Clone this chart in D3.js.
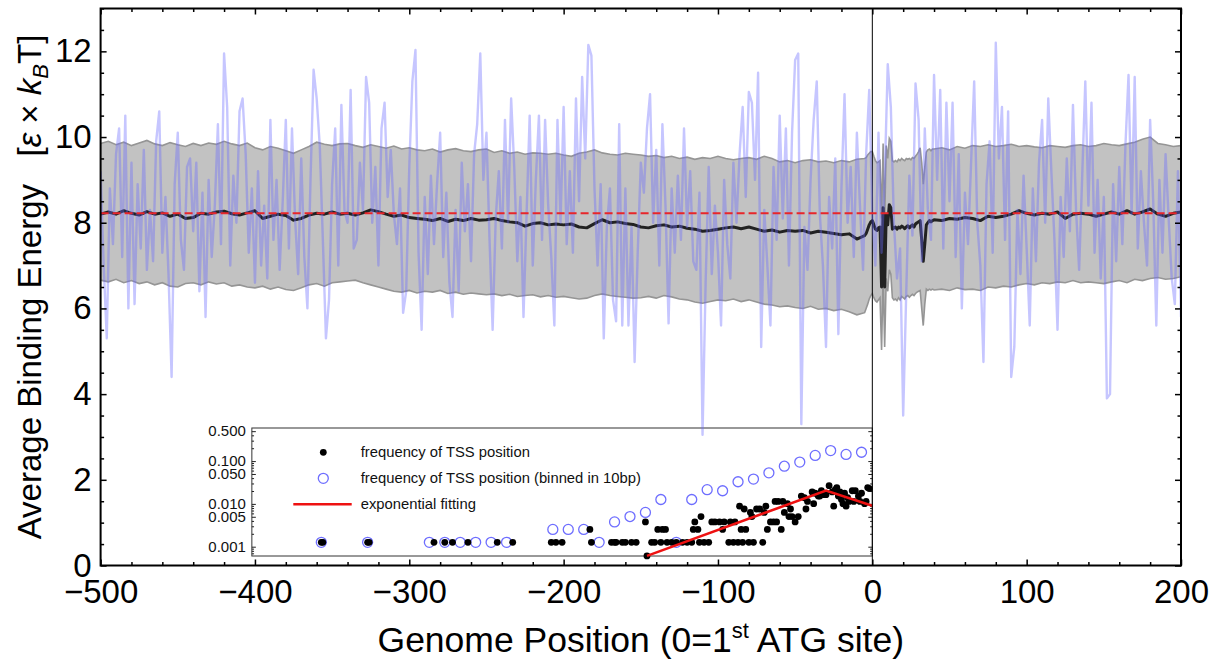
<!DOCTYPE html>
<html><head><meta charset="utf-8">
<script src="https://cdn.jsdelivr.net/npm/d3@7"></script>
<style>
body{margin:0;background:#fff}
svg{display:block}
text{font-family:"Liberation Sans",Arial,Helvetica,sans-serif}
</style>
</head><body>
<svg id="chart" width="1217" height="661"></svg>
<script>
// ---------------- DATA ----------------
// single-sequence binding energy, every 2 bp from -500 to 200
const bluePos = d3.range(-500, 201, 2);
const blueVal = [
9.2,7.0,5.3,8.8,7.5,9.6,10.2,7.2,10.5,6.0,
9.4,6.1,8.9,7.4,9.7,6.9,8.3,7.1,9.9,10.6,
7.3,8.6,6.8,4.4,8.9,10.1,7.6,6.9,9.3,9.5,
7.8,9.4,6.4,8.7,5.8,9.0,7.2,8.4,10.3,7.5,
11.95,10.7,7.0,9.1,8.0,10.6,10.9,9.6,7.3,8.8,
6.6,9.2,7.0,8.4,6.7,10.4,7.6,9.0,6.9,8.5,
10.4,7.4,10.2,8.1,6.8,9.5,7.2,6.0,9.0,11.57,
10.9,9.8,7.6,5.3,6.2,8.9,10.2,7.0,10.75,8.3,
8.0,11.1,7.4,7.6,9.4,8.3,11.4,10.8,8.0,9.3,
7.0,10.2,10.8,8.6,9.7,8.2,7.5,8.8,5.9,6.4,
9.3,11.3,12.03,7.3,5.5,8.6,6.8,9.1,7.5,8.9,
10.1,7.2,8.7,6.6,5.8,8.3,6.4,9.4,7.8,8.9,
7.1,9.6,10.3,11.95,9.0,10.1,7.6,5.5,8.1,9.2,
7.4,10.4,8.0,10.9,9.3,7.1,8.6,5.8,8.2,10.5,
7.0,9.0,10.5,7.6,10.4,8.4,7.2,5.6,10.4,8.0,
10.7,7.5,9.2,7.3,10.9,8.5,11.4,9.5,12.15,11.9,
8.8,7.0,8.9,5.3,7.9,8.8,6.2,5.7,10.3,5.6,
8.8,5.6,7.9,4.75,7.3,9.4,8.7,10.2,11.0,8.0,
9.7,7.0,10.3,8.4,5.65,8.8,7.3,9.1,7.6,10.2,
7.9,9.2,7.1,6.9,8.7,3.05,6.6,9.3,6.8,8.4,
7.3,5.6,9.0,7.5,6.7,9.4,8.0,9.6,10.7,8.6,
11.05,10.8,9.0,11.5,5.1,8.3,7.0,5.6,9.3,7.6,
10.5,8.1,10.2,7.0,10.1,11.8,11.95,3.3,7.9,6.9,
9.0,10.4,11.3,8.2,7.0,5.1,8.6,7.4,9.5,5.4,
8.8,11.0,8.0,9.3,7.2,10.1,8.4,6.9,9.6,11.1,
8.2,7.0,10.1,7.3,9.0,11.7,10.7,8.0,6.7,7.4,
3.5,6.4,9.1,7.7,11.25,10.4,7.1,10.2,8.3,7.6,
11.45,9.0,11.1,7.4,10.8,8.5,10.8,7.2,9.6,6.0,
8.7,7.5,9.4,11.3,8.0,7.0,4.75,8.9,9.9,7.3,
12.2,9.5,10.7,7.6,10.6,4.4,5.1,8.3,6.8,9.1,
7.4,5.6,8.8,7.1,9.4,10.4,8.0,10.9,9.2,7.6,
5.5,8.6,7.2,9.5,7.8,10.75,8.3,6.9,9.1,11.3,
8.4,10.8,7.3,9.0,6.7,8.6,3.9,4.0,8.9,7.1,
9.3,7.5,9.8,11.45,8.2,11.4,7.4,9.2,8.0,7.0,
10.4,8.5,5.6,9.0,7.3,9.6,8.1,6.7,6.1,9.2,5.8
];

// average energy and band (mean ± sd): every 5 bp, every 1 bp between -4 and 39
const bandPos = d3.range(-500, -4, 5).concat(d3.range(-4, 40, 1), d3.range(40, 201, 5));
const meanVal = [
8.2,8.25,8.2,8.28,8.22,8.18,8.26,8.2,8.23,8.15,
8.2,8.1,8.12,8.22,8.2,8.25,8.27,8.21,8.18,8.23,
8.28,8.1,8.15,8.2,8.17,8.06,8.1,8.18,8.22,8.2,
8.25,8.2,8.22,8.18,8.23,8.3,8.26,8.2,8.15,8.18,
8.12,8.1,8.08,8.05,8.1,8.03,8.08,8.05,8.1,8.06,
8.07,8.1,8.05,8.02,8.0,7.92,7.98,8.0,7.95,7.97,
7.95,7.97,7.9,7.88,7.98,8.07,8.0,8.02,7.98,7.96,
7.9,7.88,7.93,7.95,7.9,7.92,7.87,7.85,7.8,7.82,
7.85,7.88,7.9,7.86,7.9,7.85,7.8,7.83,7.78,7.82,
7.8,7.82,7.76,7.8,7.78,7.75,7.72,7.74,7.62,7.7,
7.75,7.85,7.95,8.02,8.05,7.95,7.85,7.82,7.88,7.9,
6.5,8.35,6.5,8.2,7.95,8.42,8.35,7.85,7.88,7.9,
7.85,7.9,7.88,7.92,7.9,7.86,7.9,7.93,7.88,7.92,
7.95,7.9,7.97,8.0,8.02,8.05,7.6,7.1,7.5,7.95,
8.0,8.05,8.02,8.05,
8.07,8.05,8.1,8.08,8.12,8.1,8.05,8.15,8.12,8.15,
8.2,8.28,8.22,8.18,8.22,8.2,8.25,8.1,8.2,8.22,
8.2,8.15,8.2,8.25,8.2,8.28,8.2,8.25,8.32,8.2,
8.15,8.22,8.25
];
const upperVal = [
9.85,9.9,9.82,9.88,9.8,9.86,9.92,9.84,9.8,9.87,
9.82,9.78,9.85,9.8,9.86,9.83,9.9,9.84,9.8,9.86,
9.75,9.7,9.78,9.74,9.68,9.62,9.7,9.78,9.88,9.83,
9.8,9.84,9.85,9.8,9.76,9.82,9.78,9.74,9.79,9.72,
9.75,9.7,9.68,9.72,9.65,9.7,9.73,9.68,9.66,9.7,
9.72,9.64,9.68,9.62,9.65,9.6,9.63,9.62,9.6,9.62,
9.58,9.55,9.62,9.65,9.7,9.63,9.6,9.58,9.62,9.6,
9.58,9.55,9.57,9.52,9.55,9.5,9.53,9.48,9.52,9.5,
9.55,9.5,9.47,9.5,9.52,9.48,9.55,9.5,9.42,9.45,
9.4,9.45,9.47,9.42,9.44,9.4,9.45,9.42,9.48,9.5,
9.52,9.58,9.62,9.66,9.66,9.55,9.45,9.4,9.42,9.45,
8.1,9.85,8.0,9.8,9.5,9.97,9.9,9.45,9.42,9.45,
9.42,9.48,9.45,9.5,9.47,9.45,9.5,9.48,9.5,9.47,
9.52,9.5,9.55,9.6,9.66,9.75,9.4,8.9,9.3,9.65,
9.7,9.72,9.68,9.72,
9.72,9.75,9.7,9.78,9.74,9.8,9.78,9.82,9.78,9.8,
9.83,9.78,9.8,9.77,9.75,9.8,9.78,9.76,9.8,9.82,
9.78,9.8,9.85,9.82,9.8,9.84,9.88,9.95,10.0,9.85,
9.82,9.78,9.8
];
const lowerVal = [
6.66,6.62,6.68,6.6,6.65,6.58,6.62,6.55,6.6,6.52,
6.5,6.58,6.6,6.55,6.62,6.57,6.6,6.52,6.55,6.5,
6.48,6.52,6.45,6.5,6.44,6.42,6.48,6.55,6.58,6.52,
6.6,6.62,6.64,6.66,6.6,6.55,6.5,6.45,6.4,6.38,
6.42,6.36,6.4,6.38,6.42,6.35,6.38,6.33,6.36,6.34,
6.32,6.34,6.3,6.33,6.28,6.3,6.32,6.27,6.3,6.26,
6.28,6.25,6.22,6.24,6.3,6.34,6.3,6.28,6.26,6.24,
6.25,6.28,6.24,6.3,6.27,6.22,6.2,6.15,6.12,6.16,
6.2,6.18,6.22,6.16,6.2,6.15,6.1,6.08,6.04,6.06,
6.02,6.0,6.05,5.98,6.0,5.95,5.98,5.92,5.85,5.9,
6.0,6.1,6.22,6.3,6.35,6.25,6.18,6.15,6.2,6.25,
5.03,6.8,5.1,6.7,6.4,6.9,6.8,6.25,6.2,6.22,
6.18,6.25,6.2,6.28,6.25,6.22,6.28,6.3,6.26,6.3,
6.33,6.3,6.35,6.38,6.4,6.42,6.0,5.6,6.1,6.45,
6.42,6.45,6.43,6.45,
6.43,6.45,6.42,6.48,6.44,6.45,6.42,6.5,6.48,6.52,
6.5,6.55,6.58,6.55,6.6,6.58,6.62,6.6,6.65,6.6,
6.62,6.6,6.58,6.62,6.65,6.6,6.68,6.65,6.7,6.72,
6.68,6.7,6.74
];
const refLevel = 8.22;

// inset: TSS positions (counts out of all TSS)
const tssTotal = 790;
const tssPos = [-357,-356,-327,-326,-284,-277,-272,-262,-243,-233,
 -208,-205,-201,-183,-182,-169,-167,-166,-162,-160,-156,-153,-147,-146,
 -143,-141,-139,-137,-136,-134,-133,-130,-127,-123,-120,-117,-116,-115,-113,-112,-111,-109,-106,
 -104,-102,-99,-97,-96,-93,-92,-90,-89,-87,-86,-85,-84,-83,-82,-80,-79,-78,-77,-75,-73,-71,-70,-69,-68,
 -66,-64,-63,-62,-61,-59,-58,-57,-55,-54,-53,-52,-50,-48,-46,-44,-43,-42,-39,-38,-37,
 -35,-34,-33,-31,-30,-28,-26,-25,-24,-23,-22,-21,-20,-19,-18,-17,-16,-15,-13,-12,-11,-9,-8,-7,-5,-4,-3,-2];
const tssCount = [1,1,1,1,1,1,1,1,1,1,
 1,1,1,2,1,1,1,1,1,1,1,1,3,0.48,
 1,1,2,1,2,2,1,1,1,1,1,1,2,3,2,1,4,1,1,
 3,3,3,2,3,1,3,1,3,1,7,2,1,6,2,1,5,4,1,6,6,1,5,7,2,
 3,3,9,3,9,2,9,5,8,4,6,4,3,4,12,11,6,9,15,8,14,
 12,12,16,13,13,21,15,7,17,19,12,15,10,8,14,7,11,9,16,9,16,12,9,14,8,9,19,18];
const binPos = [-357,-327,-287,-277,-267,-257,-247,-237,-207,-197,-187,-177,-167,-157,-147,-137,-127,-117,-107,-97,-87,-77,-67,-57,-47,-37,-27,-17,-7];
const binCount = [1,1,1,1,1,1,1,1,2,2,2,1,3,4,5,10,1,10,17,16,26,30,42,60,75,107,139,113,127];
const fitPos = [-146, -30, 0];
const fitVal = [0.00061, 0.0205, 0.009];

const xMajor = [-500,-400,-300,-200,-100,0,100,200];
const yMajor = [0,2,4,6,8,10,12];
const insetMajor = [0.001,0.005,0.01,0.05,0.1,0.5];
const insetLabels = ["0.001","0.005","0.010","0.050","0.100","0.500"];
const legendLabels = ["frequency of TSS position","frequency of TSS position (binned in 10bp)","exponential fitting"];

// ---------------- CHART ----------------
const svg = d3.select("#chart");
const L = 100.6, R = 1181, T = 8.5, B = 565.5;
const x = d3.scaleLinear().domain([-500,200]).range([L,R]);
const y = d3.scaleLinear().domain([0,13]).range([B,T]);

svg.append("defs").append("clipPath").attr("id","clip")
  .append("rect").attr("x",L).attr("y",T).attr("width",R-L).attr("height",B-T);

// ---- inset (drawn first; main lines may pass over it) ----
const iL = x(-402), iR = x(0), iT = 428, iB = 556;
const iy = d3.scaleLog().domain([0.000606, 0.593]).range([iB, iT]);
const inset = svg.append("g");
inset.append("rect").attr("x",iL).attr("y",iT).attr("width",iR-iL).attr("height",iB-iT)
  .attr("fill","#fff").attr("stroke","#333").attr("stroke-width",1);
const minorLog = [];
[0.0001,0.001,0.01,0.1].forEach(d => { for (let k=2;k<=9;k++){ const v=d*k; if (v>0.000606 && v<0.593 && !insetMajor.some(m=>Math.abs(m-v)<1e-9)) minorLog.push(v);} });
const iLeft = inset.append("g").attr("transform",`translate(${iL},0)`)
  .call(d3.axisLeft(iy).tickValues(insetMajor).tickSize(-4).tickPadding(6)
        .tickFormat((d,i)=>insetLabels[i]));
iLeft.select(".domain").remove();
iLeft.selectAll("text").attr("font-size",15).attr("font-family","Liberation Sans, Arial, sans-serif").attr("fill","#111");
iLeft.selectAll("line").attr("stroke","#222");
const iLeftMinor = inset.append("g").attr("transform",`translate(${iL},0)`)
  .call(d3.axisLeft(iy).tickValues(minorLog).tickSize(-2.2).tickFormat(""));
iLeftMinor.select(".domain").remove();
iLeftMinor.selectAll("line").attr("stroke","#222");
const iRight = inset.append("g").attr("transform",`translate(${iR},0)`)
  .call(d3.axisRight(iy).tickValues(insetMajor).tickSize(-4).tickFormat(""));
iRight.select(".domain").remove(); iRight.selectAll("line").attr("stroke","#222");
const iRightMinor = inset.append("g").attr("transform",`translate(${iR},0)`)
  .call(d3.axisRight(iy).tickValues(minorLog).tickSize(-2.2).tickFormat(""));
iRightMinor.select(".domain").remove(); iRightMinor.selectAll("line").attr("stroke","#222");

// binned (open circles)
inset.append("g").selectAll("circle").data(binPos).join("circle")
  .attr("cx",d=>x(d)).attr("cy",(d,i)=>iy(binCount[i]/tssTotal)).attr("r",5)
  .attr("fill","none").attr("stroke","#6e6eff").attr("stroke-width",1.3);
// per-position (black dots)
inset.append("g").selectAll("circle").data(tssPos).join("circle")
  .attr("cx",d=>x(d)).attr("cy",(d,i)=>iy(tssCount[i]/tssTotal)).attr("r",3.4)
  .attr("fill","#000");
// exponential fitting
inset.append("path").datum(fitPos.map((p,i)=>[p,fitVal[i]]))
  .attr("d",d3.line().x(d=>x(d[0])).y(d=>iy(d[1])))
  .attr("fill","none").attr("stroke","#ee1111").attr("stroke-width",2.6);
// legend
const lg = inset.append("g").attr("font-size",14.8).attr("fill","#111");
lg.append("circle").attr("cx",323.3).attr("cy",452.3).attr("r",3.4).attr("fill","#000");
lg.append("circle").attr("cx",323.3).attr("cy",478.3).attr("r",5).attr("fill","none").attr("stroke","#6e6eff").attr("stroke-width",1.3);
lg.append("line").attr("x1",293.3).attr("x2",351.7).attr("y1",504.3).attr("y2",504.3).attr("stroke","#ee1111").attr("stroke-width",2.6);
legendLabels.forEach((t,i)=>{
  lg.append("text").attr("x",360.7).attr("y",457+i*26).text(t);
});

// ---- main series ----
const plot = svg.append("g").attr("clip-path","url(#clip)");
const band = bandPos.map((p,i)=>({p, m:meanVal[i], u:upperVal[i], l:lowerVal[i]}));
plot.append("path").datum(band)
  .attr("d",d3.area().x(d=>x(d.p)).y0(d=>y(d.l)).y1(d=>y(d.u)))
  .attr("fill","#c2c2c2");
plot.append("path").datum(band)
  .attr("d",d3.line().x(d=>x(d.p)).y(d=>y(d.u)))
  .attr("fill","none").attr("stroke","#959595").attr("stroke-width",1.6);
plot.append("path").datum(band)
  .attr("d",d3.line().x(d=>x(d.p)).y(d=>y(d.l)))
  .attr("fill","none").attr("stroke","#959595").attr("stroke-width",1.6);
plot.append("path").datum(band)
  .attr("d",d3.line().x(d=>x(d.p)).y(d=>y(d.m)))
  .attr("fill","none").attr("stroke","#222").attr("stroke-width",3).attr("stroke-linejoin","round");
// zero line
plot.append("line").attr("x1",x(0)).attr("x2",x(0)).attr("y1",T).attr("y2",B)
  .attr("stroke","#000").attr("stroke-width",1);
plot.append("path").datum(bluePos.map((p,i)=>[p,blueVal[i]]))
  .attr("d",d3.line().x(d=>x(d[0])).y(d=>y(d[1])))
  .attr("fill","none").attr("stroke","#6a6aff").attr("stroke-opacity",0.38).attr("stroke-width",2.4)
  .attr("stroke-linejoin","round");
plot.append("line").attr("x1",L).attr("x2",R).attr("y1",y(refLevel)).attr("y2",y(refLevel))
  .attr("stroke","#e8262a").attr("stroke-width",2).attr("stroke-dasharray","8,4");

// ---- axes ----
const xMinor = d3.range(-500,201,20).filter(v=>!xMajor.includes(v));
const yMinor = d3.range(0,13.01,0.5).filter(v=>!yMajor.includes(v));
function styleAx(g){ g.select(".domain").remove(); g.selectAll("line").attr("stroke","#000").attr("stroke-width",1.5); return g; }
const fs = 33;
const xb = svg.append("g").attr("transform",`translate(0,${B})`)
  .call(d3.axisBottom(x).tickValues(xMajor).tickSize(-6).tickPadding(14));
styleAx(xb).selectAll("text").attr("font-size",fs).attr("font-family","Liberation Sans, Arial, sans-serif").attr("fill","#000");
styleAx(svg.append("g").attr("transform",`translate(0,${B})`).call(d3.axisBottom(x).tickValues(xMinor).tickSize(-3.5).tickFormat("")));
styleAx(svg.append("g").attr("transform",`translate(0,${T})`).call(d3.axisTop(x).tickValues(xMajor).tickSize(-6).tickFormat("")));
styleAx(svg.append("g").attr("transform",`translate(0,${T})`).call(d3.axisTop(x).tickValues(xMinor).tickSize(-3.5).tickFormat("")));
const yl = svg.append("g").attr("transform",`translate(${L},0)`)
  .call(d3.axisLeft(y).tickValues(yMajor).tickSize(-6).tickPadding(9));
styleAx(yl).selectAll("text").attr("font-size",fs).attr("font-family","Liberation Sans, Arial, sans-serif").attr("fill","#000");
styleAx(svg.append("g").attr("transform",`translate(${L},0)`).call(d3.axisLeft(y).tickValues(yMinor).tickSize(-3.5).tickFormat("")));
styleAx(svg.append("g").attr("transform",`translate(${R},0)`).call(d3.axisRight(y).tickValues(yMajor).tickSize(-6).tickFormat("")));
styleAx(svg.append("g").attr("transform",`translate(${R},0)`).call(d3.axisRight(y).tickValues(yMinor).tickSize(-3.5).tickFormat("")));

svg.append("rect").attr("x",L).attr("y",T).attr("width",R-L).attr("height",B-T)
  .attr("fill","none").attr("stroke","#000").attr("stroke-width",2);

// ---- titles ----
const xt = svg.append("text").attr("x",(L+R)/2).attr("y",652).attr("text-anchor","middle")
  .attr("font-size",35.5).attr("fill","#000");
xt.append("tspan").text("Genome Position (0=1");
xt.append("tspan").attr("font-size",22).attr("dy",-14).text("st");
xt.append("tspan").attr("dy",14).text(" ATG site)");

const yt = svg.append("text").attr("transform",`translate(41,${(T+B)/2}) rotate(-90)`)
  .attr("text-anchor","middle").attr("font-size",fs).attr("fill","#000");
yt.append("tspan").text("Average Binding Energy\u00a0\u00a0\u00a0[");
yt.append("tspan").attr("font-style","italic").text("\u03b5");
yt.append("tspan").text(" \u00d7 ");
yt.append("tspan").attr("font-style","italic").text("k");
yt.append("tspan").attr("font-style","italic").attr("font-size",22).attr("dy",7).text("B");
yt.append("tspan").attr("dy",-7).text("T]");
</script>
</body></html>
